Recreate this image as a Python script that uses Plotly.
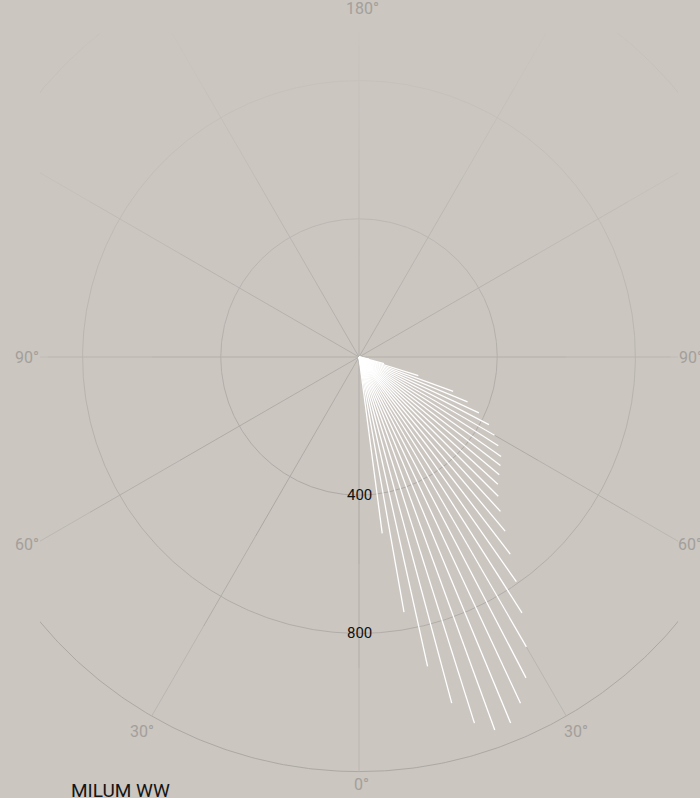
import numpy as np
import plotly.graph_objects as go

# ---------------- data ----------------
ray_angles = [7.5, 10, 12.5, 15, 17.5, 20, 22.5, 25, 27.5, 30, 32.5, 35, 37.5, 40, 42.5,
              45, 47.5, 50, 52.5, 55, 57.5, 60, 62.5, 65, 67.5, 70, 72.5, 75, 77.5, 80]
ray_intensity = [515, 750, 917, 1037, 1111, 1149, 1147, 1106, 1047, 969, 878, 794, 719, 658, 606,
                 570, 545, 530, 516, 502, 478, 453, 424, 383, 340, 290, 180, 75, 30, 10]
ring_values = [400, 800, 1200]
ring_labels = ["400", "800"]
spoke_angles = [0, 30, 60, 90, 120, 150, 180, 210, 240, 270, 300, 330]
title_text = "MILUM WW"

# ---------------- layout constants ----------------
W, H = 700, 798
CX, CY = 359, 357          # pixel centre of the diagram
K = 0.3455                 # pixels per candela
L, R, T, B = 40, 22, 33, 8 # plot area margins (clip window)
BG = "#cbc6c0"


def to_xy(theta_deg, r):
    t = np.radians(np.asarray(theta_deg, dtype=float))
    r = np.asarray(r, dtype=float)
    return r * np.sin(t), -r * np.cos(t)


x_range = [(L - CX) / K, (W - R - CX) / K]
y_range = [-(H - B - CY) / K, (CY - T) / K]


def paper_x(px):
    return (px - L) / (W - L - R)


def paper_y(py):
    return (H - B - py) / (H - T - B)


fig = go.Figure()

# rings
ring_colors = {400: "#a9a5a1", 800: "#b1ada8", 1200: "#aca8a3"}
full_circle = np.linspace(0, 360, 721)
for rv in ring_values:
    x, y = to_xy(full_circle, np.full_like(full_circle, rv))
    fig.add_trace(go.Scatter(x=x, y=y, mode="lines",
                             line=dict(color=ring_colors[rv], width=1),
                             hoverinfo="skip", showlegend=False))

# spokes (split into segments that fade outward)
seg_bounds = [0, 600, 900, 1200]
seg_colors = ["#a8a4a0", "#b0aca8", "#bab6b1"]
for i in range(len(seg_bounds) - 1):
    xs, ys = [], []
    for a in spoke_angles:
        x, y = to_xy([a, a], [seg_bounds[i], seg_bounds[i + 1]])
        xs += list(x) + [None]
        ys += list(y) + [None]
    fig.add_trace(go.Scatter(x=xs, y=ys, mode="lines",
                             line=dict(color=seg_colors[i], width=1),
                             hoverinfo="skip", showlegend=False))

# top fade overlay
y_start = -(600 - CY) / K
y_stop = y_range[1]
fig.add_trace(go.Scatter(
    x=[x_range[0] - 50, x_range[1] + 50, x_range[1] + 50, x_range[0] - 50, x_range[0] - 50],
    y=[y_start, y_start, y_stop + 50, y_stop + 50, y_start],
    mode="lines", line=dict(width=0), fill="toself",
    fillgradient=dict(type="vertical", start=y_start, stop=y_stop,
                      colorscale=[[0, "rgba(203,198,192,0)"],
                                  [0.43, "rgba(203,198,192,0.3)"],
                                  [0.7, "rgba(203,198,192,0.6)"],
                                  [1, "rgba(203,198,192,0.88)"]]),
    hoverinfo="skip", showlegend=False))

# light rays
xs, ys = [], []
for a, v in zip(ray_angles, ray_intensity):
    x, y = to_xy([a, a], [0, v])
    xs += list(x) + [None]
    ys += list(y) + [None]
fig.add_trace(go.Scatter(x=xs, y=ys, mode="lines",
                         line=dict(color="#ffffff", width=1.3),
                         hoverinfo="skip", showlegend=False))

annotations = []
for rv, lab in zip(ring_values, ring_labels):
    annotations.append(dict(x=0, y=-rv, xref="x", yref="y", text=lab, showarrow=False,
                            xanchor="center", yanchor="middle",
                            font=dict(family="Roboto, sans-serif", size=15, color="#111111")))

angle_labels = [("180°", 362.5, 8), ("90°", 27, 357.5), ("90°", 691, 357.5),
                ("60°", 27, 544), ("60°", 690, 544), ("30°", 142, 731),
                ("30°", 576, 731), ("0°", 361, 784)]
for txt, px, py in angle_labels:
    annotations.append(dict(x=paper_x(px), y=paper_y(py), xref="paper", yref="paper",
                            text=txt, showarrow=False, xanchor="center", yanchor="middle",
                            font=dict(family="Roboto, sans-serif", size=16, color="#a39f9b")))

annotations.append(dict(x=paper_x(69), y=paper_y(790), xref="paper", yref="paper",
                        text=title_text, showarrow=False, xanchor="left", yanchor="middle",
                        font=dict(family="Roboto, sans-serif", size=19, color="#151515")))

fig.update_layout(
    width=W, height=H,
    margin=dict(l=L, r=R, t=T, b=B, pad=0),
    paper_bgcolor=BG, plot_bgcolor=BG,
    xaxis=dict(range=x_range, visible=False, showgrid=False, zeroline=False, fixedrange=True),
    yaxis=dict(range=y_range, visible=False, showgrid=False, zeroline=False, fixedrange=True),
    annotations=annotations,
    showlegend=False,
)

fig.write_html(
    "out.html",
    config={"displayModeBar": False},
    post_script="document.body.style.margin='0';document.body.style.overflow='hidden';"
                "document.body.style.background='" + BG + "';",
)
